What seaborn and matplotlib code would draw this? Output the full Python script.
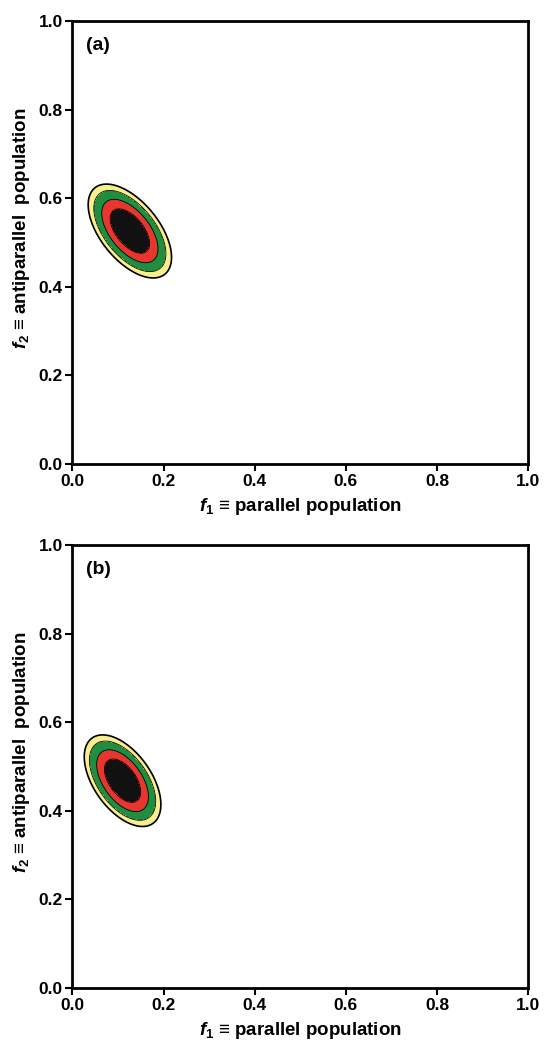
import numpy as np
import matplotlib
matplotlib.use("Agg")
import matplotlib.pyplot as plt
import seaborn as sns

# fit results: best-fit point, 1-sigma widths, correlation
panels = ["(a)", "(b)"]
center_f1 = [0.126, 0.110]
center_f2 = [0.526, 0.468]
sigma_f1 = [0.0285, 0.0262]
sigma_f2 = [0.0330, 0.0322]
rho = [-0.56, -0.52]

# delta chi^2 contour levels and fill colours
levels = [0.0, 2.3, 4.7, 7.7, 10.3]
fill_colors = ["#111111", "#e8352e", "#1f8f3f", "#f7ef8e"]

tick_vals = [0.0, 0.2, 0.4, 0.6, 0.8, 1.0]
tick_labels = ["0.0", "0.2", "0.4", "0.6", "0.8", "1.0"]

sns.set_style("ticks")
plt.rcParams["font.family"] = ["Liberation Sans", "DejaVu Sans"]
plt.rcParams["font.weight"] = "bold"
plt.rcParams["text.color"] = "black"
plt.rcParams["axes.labelcolor"] = "black"
plt.rcParams["mathtext.fontset"] = "custom"
plt.rcParams["mathtext.it"] = "Liberation Sans:italic:bold"
plt.rcParams["mathtext.rm"] = "Liberation Sans:bold"
plt.rcParams["mathtext.bf"] = "Liberation Sans:bold"

fig = plt.figure(figsize=(5.53, 10.5), dpi=100)
ax_pos = [[0.131, 0.558, 0.824, 0.422], [0.131, 0.059, 0.824, 0.422]]

g = np.linspace(0, 1, 600)
X, Y = np.meshgrid(g, g)

for i in range(2):
    ax = fig.add_axes(ax_pos[i])
    dx = (X - center_f1[i]) / sigma_f1[i]
    dy = (Y - center_f2[i]) / sigma_f2[i]
    chi2 = (dx**2 - 2 * rho[i] * dx * dy + dy**2) / (1 - rho[i]**2)
    ax.contourf(X, Y, chi2, levels=levels, colors=fill_colors)
    ax.contour(X, Y, chi2, levels=levels[1:], colors="black", linewidths=[0.6, 0.6, 0.6, 1.2])

    ax.set_xlim(0, 1)
    ax.set_ylim(0, 1)
    ax.set_xticks(tick_vals)
    ax.set_yticks(tick_vals)
    ax.set_xticklabels(tick_labels, fontsize=12.5, fontweight="bold")
    ax.set_yticklabels(tick_labels, fontsize=12.5, fontweight="bold")
    ax.tick_params(direction="out", length=5, width=1.5, pad=2, colors="black")
    for s in ax.spines.values():
        s.set_linewidth(2)
        s.set_color("black")
    ax.set_xlabel(r"$f_\mathrm{1}$ ≡ parallel population", fontsize=13.5, fontweight="bold", labelpad=5)
    ax.set_ylabel(r"$f_\mathrm{2}$ ≡ antiparallel  population", fontsize=13.5, fontweight="bold")
    ax.yaxis.set_label_coords(-0.089, 0.533)
    ax.text(0.03, 0.945, panels[i], transform=ax.transAxes, fontsize=14, fontweight="bold", va="center")

fig.savefig("out.png", dpi=100)
